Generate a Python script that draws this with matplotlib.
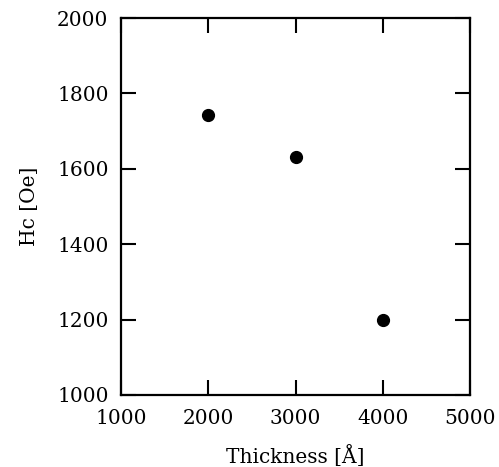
import matplotlib
matplotlib.use("Agg")
import matplotlib.pyplot as plt

thickness = [2000, 3000, 4000]
hc = [1743, 1631, 1198]
xticks = [1000, 2000, 3000, 4000, 5000]
yticks = [1000, 1200, 1400, 1600, 1800, 2000]

plt.rcParams['font.family'] = ['DejaVu Serif']
fig = plt.figure(figsize=(4.99, 4.67), dpi=100)
ax = fig.add_axes([121/499, 1-395/467, (470-121)/499, (395-18)/467])
ax.plot(thickness, hc, 'o', color='black', markersize=8.5)
ax.set_xlim(1000, 5000)
ax.set_ylim(1000, 2000)
ax.set_xticks(xticks)
ax.set_yticks(yticks)
ax.tick_params(direction='in', length=11, width=1.5, top=True, right=True, labelsize=14.5)
ax.tick_params(axis='x', pad=10)
ax.tick_params(axis='y', pad=9)
for s in ax.spines.values():
    s.set_linewidth(1.6)
ax.set_xlabel('Thickness [Å]', fontsize=14.5, labelpad=12)
ax.set_ylabel('Hc [Oe]', fontsize=14.5, labelpad=13)
fig.savefig('out.png', dpi=100)
